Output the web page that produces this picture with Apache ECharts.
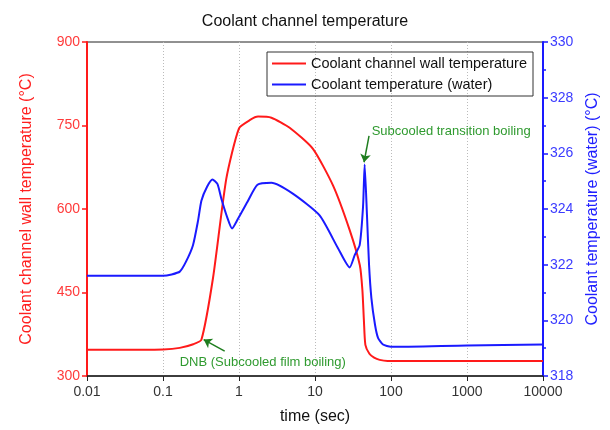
<!DOCTYPE html>
<html>
<head>
<meta charset="utf-8">
<script src="https://cdn.jsdelivr.net/npm/echarts@6/dist/echarts.min.js"></script>
<style>
  html, body { margin: 0; padding: 0; background: #fff; }
  #chart { width: 610px; height: 430px; }
</style>
</head>
<body>
<div id="chart"></div>
<script>
  // time (sec), wall temperature (left axis)
  const wallTime = [0.01, 0.05, 0.1, 0.166, 0.25, 0.32, 0.455, 0.68, 1.0, 1.4, 1.78, 2.67, 4.64, 9.4, 17.3, 28.6, 38.9, 42, 44, 46, 52, 60, 71, 90, 1000, 10000]
  const wallTemp = [347, 347, 347.5, 350.5, 357, 365, 476, 654, 745, 760, 766, 764, 746, 708, 642, 562, 499, 455, 400, 356, 340, 333, 329, 327, 327, 327]

  // time (sec), coolant temperature (right axis)
  const waterTime = [0.01, 0.1, 0.13, 0.166, 0.2, 0.248, 0.29, 0.32, 0.38, 0.447, 0.52, 0.586, 0.7, 0.81, 0.97, 1.3, 1.75, 2.67, 5.1, 11.5, 20, 28.6, 33.3, 38.7, 42.9, 45, 48.3, 51.4, 55.2, 61.6, 67.5, 78.5, 100, 1000, 10000]
  const waterTemp = [321.6, 321.6, 321.65, 321.75, 322.1, 322.7, 323.6, 324.3, 324.8, 325.06, 324.9, 324.37, 323.7, 323.3, 323.65, 324.27, 324.87, 324.94, 324.55, 323.77, 322.6, 321.9, 322.34, 322.7, 324.1, 325.6, 323.77, 322.0, 320.8, 319.84, 319.37, 319.13, 319.05, 319.1, 319.13]

  const leftTicks = [300, 450, 600, 750, 900]
  const rightTicks = [318, 320, 322, 324, 326, 328, 330]

  const font = 'Liberation Sans, Arial, sans-serif'
  const green = '#2f9a2f'

  const chart = echarts.init(document.getElementById('chart'))
  chart.setOption({
    animation: false,
    title: {
      text: 'Coolant channel temperature',
      left: 'center',
      top: 9,
      textStyle: { fontFamily: font, fontSize: 16, fontWeight: 'normal', color: '#111' }
    },
    legend: {
      orient: 'vertical',
      left: 267,
      top: 52,
      padding: [4, 6, 4, 5],
      itemGap: 6,
      itemWidth: 34,
      itemHeight: 2,
      icon: 'rect',
      borderColor: '#333',
      borderWidth: 1,
      textStyle: { fontFamily: font, fontSize: 14.5, color: '#111' },
      data: ['Coolant channel wall temperature', 'Coolant temperature (water)']
    },
    grid: {
      left: 87,
      right: 67,
      top: 42,
      bottom: 52,
      show: true,
      borderColor: '#222',
      borderWidth: 1
    },
    xAxis: {
      type: 'log',
      logBase: 10,
      min: 0.01,
      max: 10000,
      name: 'time (sec)',
      nameLocation: 'middle',
      nameGap: 33,
      nameTextStyle: { fontFamily: font, fontSize: 16, color: '#111' },
      axisLine: { lineStyle: { color: '#222', width: 1.5 } },
      axisTick: { show: true, length: 5, lineStyle: { color: '#222' } },
      axisLabel: {
        fontFamily: font, fontSize: 14, color: '#333', margin: 9,
        formatter: v => String(+v.toPrecision(3))
      },
      splitLine: { show: true, lineStyle: { color: '#bbb', type: [1, 2] } }
    },
    yAxis: [{
      type: 'value',
      min: leftTicks[0],
      max: leftTicks[leftTicks.length - 1],
      interval: 150,
      name: 'Coolant channel wall temperature (°C)',
      nameLocation: 'middle',
      nameGap: 52,
      nameTextStyle: { fontFamily: font, fontSize: 16, color: '#ff2020' },
      axisLine: { show: true, lineStyle: { color: '#ff1a1a', width: 2 } },
      axisTick: { show: true, length: 5, lineStyle: { color: '#ff1a1a', width: 1.5 } },
      axisLabel: { fontFamily: font, fontSize: 14, color: '#ff3b3b', margin: 7 },
      splitLine: { show: false }
    }, {
      type: 'value',
      position: 'right',
      min: rightTicks[0],
      max: rightTicks[rightTicks.length - 1],
      interval: 2,
      name: 'Coolant temperature (water) (°C)',
      nameLocation: 'middle',
      nameGap: 40,
      nameRotate: 90,
      nameTextStyle: { fontFamily: font, fontSize: 16, color: '#2020ff' },
      axisLine: { show: true, lineStyle: { color: '#1a1aff', width: 2 } },
      axisTick: { show: true, length: 5, lineStyle: { color: '#1a1aff', width: 1.5 } },
      minorTick: { show: true, splitNumber: 2, length: 3, lineStyle: { color: '#1a1aff', width: 1.5 } },
      axisLabel: { fontFamily: font, fontSize: 14, color: '#3b3bff', margin: 7 },
      splitLine: { show: false }
    }],
    series: [{
      name: 'Coolant channel wall temperature',
      type: 'line',
      yAxisIndex: 0,
      showSymbol: false,
      smooth: 0.2,
      lineStyle: { color: '#ff1a1a', width: 2 },
      itemStyle: { color: '#ff1a1a' },
      data: wallTime.map((t, i) => [t, wallTemp[i]]),
      markLine: {
        silent: true,
        symbol: ['none', 'arrow'],
        symbolSize: 8,
        lineStyle: { color: '#1e7d1e', width: 1.5, type: 'solid' },
        label: { show: false },
        data: [[{ coord: [0.648, 344.6] }, { coord: [0.343, 365.4] }]]
      },
      markPoint: {
        silent: true,
        symbol: 'circle',
        symbolSize: 0,
        label: {
          show: true, position: 'right', distance: 0,
          formatter: 'DNB (Subcooled film boiling)',
          fontFamily: font, fontSize: 13, color: green
        },
        data: [{ coord: [0.166, 325] }]
      }
    }, {
      name: 'Coolant temperature (water)',
      type: 'line',
      yAxisIndex: 1,
      showSymbol: false,
      smooth: 0.2,
      lineStyle: { color: '#1a1aff', width: 2 },
      itemStyle: { color: '#1a1aff' },
      data: waterTime.map((t, i) => [t, waterTemp[i]]),
      markLine: {
        silent: true,
        symbol: ['none', 'arrow'],
        symbolSize: 8,
        lineStyle: { color: '#1e7d1e', width: 1.5, type: 'solid' },
        label: { show: false },
        data: [[{ coord: [51.4, 326.63] }, { coord: [44.2, 325.68] }]]
      },
      markPoint: {
        silent: true,
        symbol: 'circle',
        symbolSize: 0,
        label: {
          show: true, position: 'right', distance: 0,
          formatter: 'Subcooled transition boiling',
          fontFamily: font, fontSize: 13, color: green
        },
        data: [{ coord: [55.7, 326.8] }]
      }
    }]
  })
</script>
</body>
</html>
